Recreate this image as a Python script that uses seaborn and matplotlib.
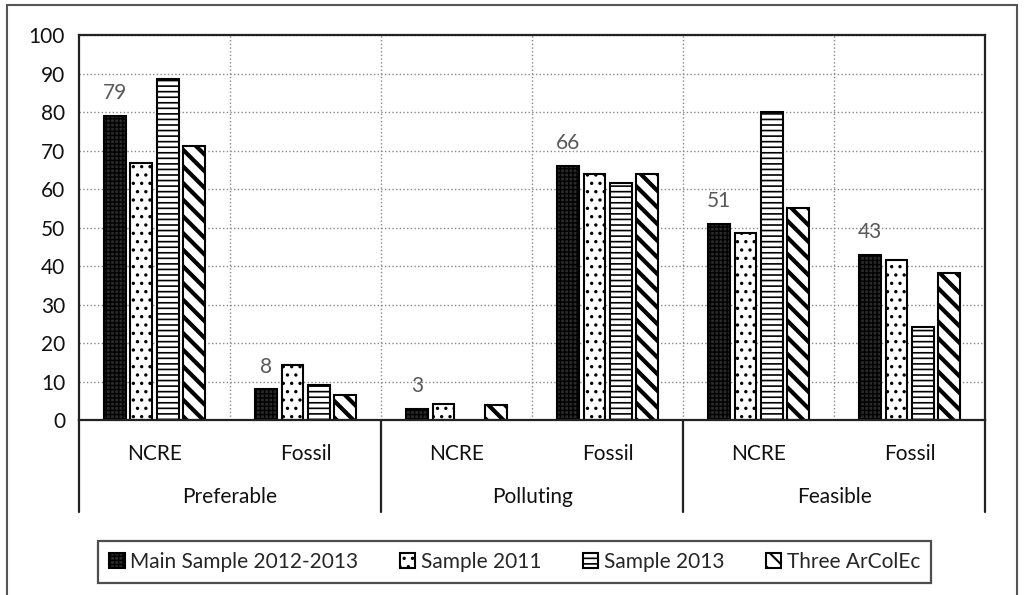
import numpy as np
import pandas as pd
import matplotlib
matplotlib.use("Agg")
import matplotlib.pyplot as plt
import seaborn as sns
from matplotlib.lines import Line2D
from matplotlib.patches import Rectangle

# values
groups = ["Preferable", "Polluting", "Feasible"]
sources = ["NCRE", "Fossil"]
series = ["Main Sample 2012-2013", "Sample 2011", "Sample 2013", "Three ArColEc"]
main_sample = [79, 8, 3, 66, 51, 43]
sample_2011 = [66.7, 14.2, 4.2, 64, 48.6, 41.5]
sample_2013 = [88.7, 9.2, np.nan, 61.7, 80, 24.2]
three_arcolec = [71.2, 6.6, 4, 63.8, 55.1, 38.1]
yticks = list(range(0, 101, 10))

cats = [f"{g}|{s}" for g in groups for s in sources]
rows = []
for name, vals in zip(series, [main_sample, sample_2011, sample_2013, three_arcolec]):
    for c, v in zip(cats, vals):
        rows.append({"cat": c, "series": name, "value": v})
df = pd.DataFrame(rows)

sns.set_theme(style="white")
plt.rcParams["font.family"] = ["Lato", "DejaVu Sans"]
plt.rcParams["hatch.linewidth"] = 1.2

fig = plt.figure(figsize=(10.25, 5.95), dpi=100)
ax = fig.add_axes([0.0771, 0.294, 0.884, 0.647])

sns.barplot(data=df, x="cat", y="value", hue="series", order=cats, hue_order=series,
            palette=["#2a2a2a", "white", "white", "white"], width=0.7, gap=0.18,
            edgecolor="black", linewidth=1.5, legend=True, ax=ax, errorbar=None)

hatches = ["++++", "..", "---", "\\\\"]
hatch_lw = [1.0, 1.2, 1.2, 3.0]


def style_patch(p, h, lw):
    p.set_hatch(h)
    if hasattr(p, "set_hatch_linewidth"):
        p.set_hatch_linewidth(lw)
    else:
        p._hatch_linewidth = lw


for cont, h, lw in zip(ax.containers, hatches, hatch_lw):
    for bar in cont:
        style_patch(bar, h, lw)

# data labels on the first series only
main_cont = ax.containers[0]
for bar, v in zip(main_cont, main_sample):
    ax.annotate(f"{v}", (bar.get_x() + bar.get_width() / 2, v), xytext=(0, 9),
                textcoords="offset points", ha="center", va="bottom",
                fontsize=15, color="#595959")

ax.set_ylim(0, 100)
ax.set_xlim(-0.5, len(cats) - 0.5)
ax.set_yticks(yticks)
ax.set_yticklabels([str(t) for t in yticks], fontsize=15, color="#111111")
ax.tick_params(axis="y", length=0, pad=10)
ax.set_xticks(range(len(cats)))
ax.set_xticklabels([c.split("|")[1] for c in cats], fontsize=15, color="#111111")
ax.tick_params(axis="x", length=0, pad=17)
ax.set_xlabel("")
ax.set_ylabel("")

ax.grid(axis="y", linestyle=":", color="#888888", linewidth=1)
for x in np.arange(0.5, len(cats) - 0.5, 1):
    ax.axvline(x, linestyle=":", color="#888888", linewidth=1, zorder=0)
ax.set_axisbelow(True)

for side in ["top", "left", "right", "bottom"]:
    ax.spines[side].set_color("#222222")
    ax.spines[side].set_linewidth(1.6)

# multi-level category axis
trans = ax.get_xaxis_transform()
for x in [-0.5, 1.5, 3.5, 5.5]:
    ax.add_line(Line2D([x, x], [0, -0.239], transform=trans, color="#222222",
                       linewidth=1.6, clip_on=False))
for i, g in enumerate(groups):
    ax.text(2 * i + 0.5, -0.2, g, transform=trans, ha="center", va="center",
            fontsize=15, color="#111111")

leg = ax.legend(loc="center", bbox_to_anchor=(0.502, 1 - 562 / 595), bbox_transform=fig.transFigure,
                ncol=4, frameon=True, fontsize=15, handlelength=0.75, handleheight=0.75,
                handletextpad=0.25, columnspacing=2.0, borderpad=0.55, fancybox=False)
leg.get_frame().set_edgecolor("#222222")
leg.get_frame().set_linewidth(1.6)
for hnd, h, lw in zip(leg.legend_handles, hatches, hatch_lw):
    style_patch(hnd, h, min(lw, 1.5))
    hnd.set_edgecolor("black")
    hnd.set_linewidth(1.5)

fig.patches.append(Rectangle((7 / 1025, -0.1), 1010 / 1025, 1 - 5 / 595 + 0.1,
                             transform=fig.transFigure, fill=False,
                             edgecolor="#555555", linewidth=1.5))

fig.savefig("out.png", dpi=100)
